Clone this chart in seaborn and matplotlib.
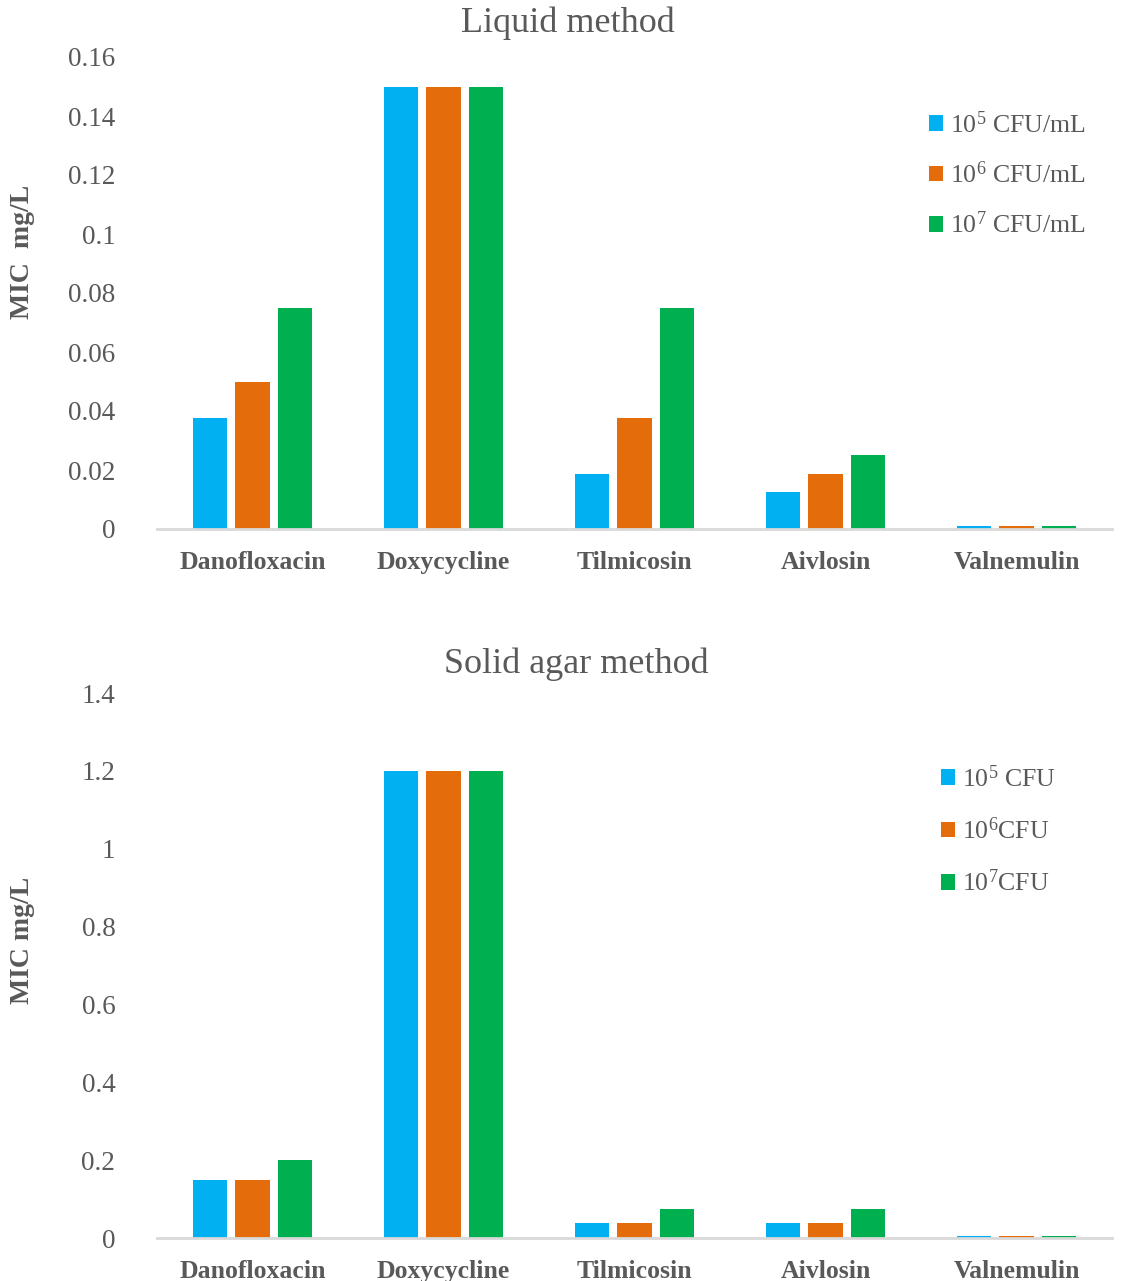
import numpy as np
import pandas as pd
import matplotlib
matplotlib.use("Agg")
import matplotlib.pyplot as plt
import seaborn as sns

# ---------------- data ----------------
drugs = ["Danofloxacin", "Doxycycline", "Tilmicosin", "Aivlosin", "Valnemulin"]

liquid_series = [r"10$^{5}$ CFU/mL", r"10$^{6}$ CFU/mL", r"10$^{7}$ CFU/mL"]
liquid_1e5 = [0.0375, 0.15, 0.01875, 0.0125, 0.001]
liquid_1e6 = [0.05, 0.15, 0.0375, 0.01875, 0.001]
liquid_1e7 = [0.075, 0.15, 0.075, 0.025, 0.001]
liquid_ticks = [0, 0.02, 0.04, 0.06, 0.08, 0.1, 0.12, 0.14, 0.16]
liquid_ticklabels = ["0", "0.02", "0.04", "0.06", "0.08", "0.1", "0.12", "0.14", "0.16"]

solid_series = [r"10$^{5}$ CFU", r"10$^{6}$CFU", r"10$^{7}$CFU"]
solid_1e5 = [0.15, 1.2, 0.0375, 0.0375, 0.005]
solid_1e6 = [0.15, 1.2, 0.0375, 0.0375, 0.005]
solid_1e7 = [0.2, 1.2, 0.075, 0.075, 0.005]
solid_ticks = [0, 0.2, 0.4, 0.6, 0.8, 1.0, 1.2, 1.4]
solid_ticklabels = ["0", "0.2", "0.4", "0.6", "0.8", "1", "1.2", "1.4"]

colors = ["#00B0F0", "#E46C0A", "#00B050"]
TEXT = "#595959"

sns.set_style("white")
plt.rcParams["font.family"] = ["Liberation Serif", "DejaVu Serif"]
plt.rcParams["mathtext.default"] = "regular"
plt.rcParams["mathtext.fontset"] = "custom"
plt.rcParams["mathtext.rm"] = "Liberation Serif"

def long_df(series_names, values):
    rows = []
    for name, vals in zip(series_names, values):
        for d, v in zip(drugs, vals):
            rows.append({"drug": d, "series": name, "value": v})
    return pd.DataFrame(rows)

liquid_df = long_df(liquid_series, [liquid_1e5, liquid_1e6, liquid_1e7])
solid_df = long_df(solid_series, [solid_1e5, solid_1e6, solid_1e7])

W, H = 1129, 1281
fig = plt.figure(figsize=(W / 100, H / 100), dpi=100)

def fx(px):
    return px / W

def fy(py):
    return 1 - py / H

ax1 = fig.add_axes([fx(157), fy(529), fx(1112) - fx(157), fy(57) - fy(529)])
ax2 = fig.add_axes([fx(157), fy(1238), fx(1112) - fx(157), fy(693) - fy(1238)])

def draw(ax, df, series, ticks, ticklabels, ylabel, title, title_xy, ylab_y, leg_anchor, leg_spacing):
    sns.barplot(data=df, x="drug", y="value", hue="series", hue_order=series,
                order=drugs, palette=colors, saturation=1, width=0.66, gap=0.19,
                linewidth=0, ax=ax, errorbar=None)
    ax.set_xlim(-0.5, 4.5)
    ax.set_ylim(ticks[0], ticks[-1])
    ax.set_yticks(ticks)
    ax.set_yticklabels(ticklabels)
    for s in ["top", "right", "left"]:
        ax.spines[s].set_visible(False)
    ax.spines["bottom"].set_color("#D9D9D9")
    ax.spines["bottom"].set_linewidth(2)
    ax.tick_params(axis="both", length=0)
    ax.tick_params(axis="y", labelsize=19.5, labelcolor=TEXT, pad=30)
    ax.tick_params(axis="x", labelsize=18.5, labelcolor=TEXT, pad=16)
    for lab in ax.get_xticklabels():
        lab.set_fontweight("bold")
    ax.set_xlabel("")
    ax.set_ylabel(ylabel, fontsize=20, fontweight="bold", color=TEXT)
    ax.yaxis.set_label_coords(fx(35), ylab_y, transform=fig.transFigure)
    fig.text(fx(title_xy[0]), fy(title_xy[1]), title, fontsize=26, color=TEXT,
             ha="center", va="center")
    handles, labels = ax.get_legend_handles_labels()
    ax.legend(handles, labels, loc="upper left", bbox_to_anchor=leg_anchor,
              bbox_transform=fig.transFigure, frameon=False, fontsize=18.6,
              handlelength=0.55, handleheight=0.55, handletextpad=0.25,
              labelspacing=leg_spacing, labelcolor=TEXT, borderpad=0)

draw(ax1, liquid_df, liquid_series, liquid_ticks, liquid_ticklabels,
     "MIC  mg/L", "Liquid method", (568, 23), fy(252),
     (fx(916), fy(98)), 0.925)
draw(ax2, solid_df, solid_series, solid_ticks, solid_ticklabels,
     "MIC mg/L", "Solid agar method", (576, 664), fy(940),
     (fx(928), fy(752)), 1.0)

fig.savefig("out.png", dpi=100)
